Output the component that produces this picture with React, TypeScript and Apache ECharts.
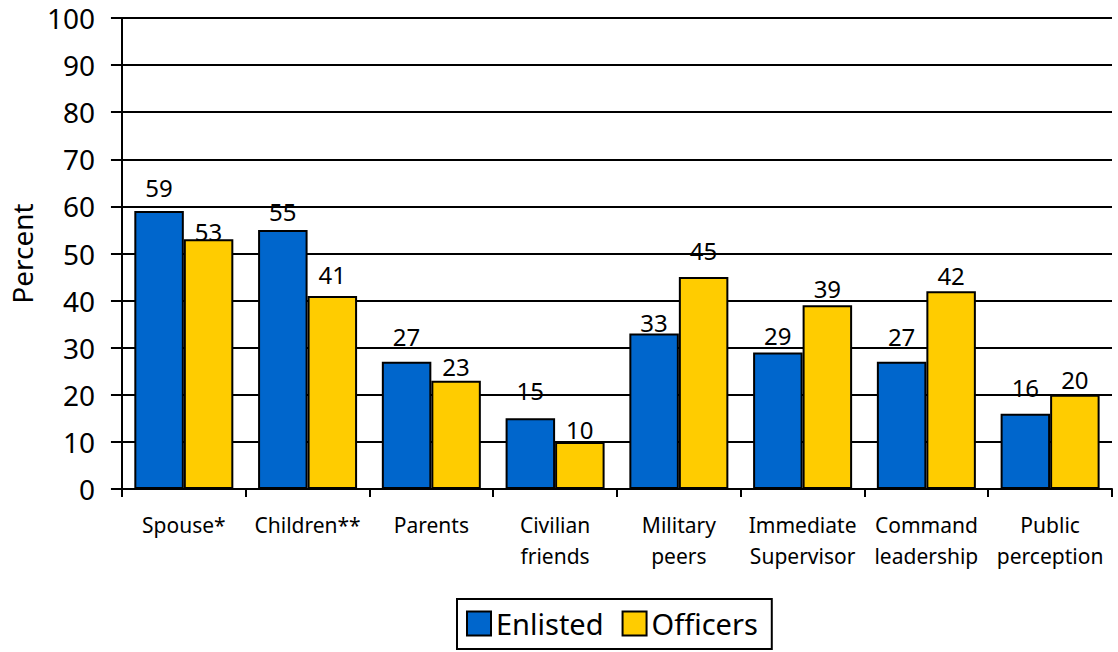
import React, { useEffect, useRef } from "react";
import * as echarts from "echarts";

const categories = [
  "Spouse*",
  "Children**",
  "Parents",
  "Civilian\nfriends",
  "Military\npeers",
  "Immediate\nSupervisor",
  "Command\nleadership",
  "Public\nperception",
];
const enlisted = [59, 55, 27, 15, 33, 29, 27, 16];
const officers = [53, 41, 23, 10, 45, 39, 42, 20];
const yTicks = [0, 10, 20, 30, 40, 50, 60, 70, 80, 90, 100];

// label distances above bar tops (pixels), mimicking the reference's placement
const enlistedLabelDist = [12, 6, 13, 16, -1, 5, 13, 14];
const officersLabelDist = [-4, 9, 2, 0, 15, 5, 4, 3];

const FONT = "Noto Sans";

export default function App() {
  const ref = useRef<HTMLDivElement>(null);
  useEffect(() => {
    if (!ref.current) return;
    const chart = echarts.init(ref.current, undefined, { renderer: "svg" });
    const mk = (vals: number[], dists: number[]) =>
      vals.map((v, i) => ({ value: v, label: { distance: dists[i] } }));
    const labelStyle = {
      show: true,
      position: "top" as const,
      color: "#000",
      fontSize: 24,
      fontFamily: FONT,
    };
    chart.setOption({
      animation: false,
      backgroundColor: "#fff",
      textStyle: { fontFamily: FONT },
      grid: { left: 121, right: 6, top: 18, bottom: 163, containLabel: false },
      legend: {
        data: ["Enlisted", "Officers"],
        left: 457,
        top: 599,
        orient: "horizontal",
        padding: [10, 14, 11, 9],
        itemWidth: 24,
        itemHeight: 24,
        itemGap: 18,
        borderColor: "#000",
        borderWidth: 2,
        borderRadius: 0,
        icon: "rect",
        textStyle: { color: "#000", fontSize: 29, fontFamily: FONT },
      },
      xAxis: {
        type: "category",
        data: categories,
        axisLine: { lineStyle: { color: "#000", width: 2 } },
        axisTick: { show: true, length: 8, lineStyle: { color: "#000", width: 2 } },
        axisLabel: {
          color: "#000",
          fontSize: 21,
          lineHeight: 31,
          margin: 20,
          interval: 0,
          fontFamily: FONT,
        },
        splitLine: { show: false },
      },
      yAxis: {
        type: "value",
        min: yTicks[0],
        max: yTicks[yTicks.length - 1],
        interval: 10,
        name: "Percent",
        nameLocation: "middle",
        nameGap: 84,
        nameRotate: 90,
        nameTextStyle: { color: "#000", fontSize: 28, fontFamily: FONT },
        axisLine: { show: true, lineStyle: { color: "#000", width: 2 } },
        axisTick: { show: true, length: 11, lineStyle: { color: "#000", width: 2 } },
        axisLabel: { color: "#000", fontSize: 28, margin: 27, fontFamily: FONT },
        splitLine: { show: true, lineStyle: { color: "#000", width: 2 } },
      },
      series: [
        {
          name: "Enlisted",
          type: "bar",
          data: mk(enlisted, enlistedLabelDist),
          barGap: "0%",
          barCategoryGap: "20%",
          itemStyle: { color: "#0066CC", borderColor: "#000", borderWidth: 2 },
          label: labelStyle,
        },
        {
          name: "Officers",
          type: "bar",
          data: mk(officers, officersLabelDist),
          barGap: "0%",
          barCategoryGap: "20%",
          itemStyle: { color: "#FFCC00", borderColor: "#000", borderWidth: 2 },
          label: labelStyle,
        },
      ],
    });
    return () => chart.dispose();
  }, []);
  return (
    <div
      ref={ref}
      style={{ position: "absolute", left: 0, top: 0, width: 1118, height: 652 }}
    />
  );
}
